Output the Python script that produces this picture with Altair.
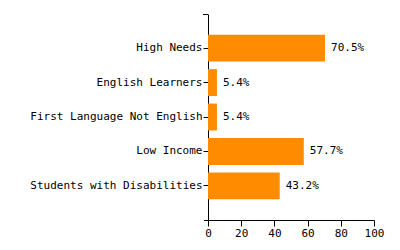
import altair as alt
import pandas as pd

categories = ["High Needs", "English Learners", "First Language Not English", "Low Income", "Students with Disabilities"]
values = [70.5, 5.4, 5.4, 57.7, 43.2]
labels = ["70.5%", "5.4%", "5.4%", "57.7%", "43.2%"]

df = pd.DataFrame({"cat": categories, "val": values, "lab": labels})
FONT = "DejaVu Sans Mono"

y = alt.Y("cat:N", sort=categories, title=None,
          scale=alt.Scale(paddingInner=0.22, paddingOuter=0.6),
          axis=alt.Axis(domainColor="black", tickColor="black", labelColor="black",
                        tickSize=5, labelPadding=1, labelFont=FONT, labelFontSize=11))
x = alt.X("val:Q", title=None, scale=alt.Scale(domain=[0, 100], nice=False),
          axis=alt.Axis(values=[0, 20, 40, 60, 80, 100], domainColor="black", tickColor="black",
                        labelColor="black", tickSize=6, labelPadding=1, labelFont=FONT,
                        labelFontSize=11, grid=False, labelFlush=False, labelOverlap=False))

bars = alt.Chart(df).mark_bar(color="#FF8C00").encode(x=x, y=y)
text = alt.Chart(df).mark_text(align="left", dx=6, font=FONT, fontSize=11, color="black").encode(
    x=x, y=y, text="lab:N")
outer_top = alt.Chart(pd.DataFrame({"yy": [0]})).mark_rule(color="black").encode(
    x=alt.value(-5), x2=alt.value(0), y=alt.value(0.5))
outer_bottom = alt.Chart(pd.DataFrame({"yy": [0]})).mark_rule(color="black").encode(
    x=alt.value(-4), x2=alt.value(0), y=alt.value(206.5))

chart = (bars + text + outer_top + outer_bottom).properties(
    width=166, height=206,
    autosize=alt.AutoSizeParams(type="none"),
    padding={"left": 208, "top": 14, "right": 26, "bottom": 30},
).configure_view(stroke=None).configure_axis(grid=False, labelOverlap=False)

chart.save("out.html", embed_options={"renderer": "svg", "actions": False})
